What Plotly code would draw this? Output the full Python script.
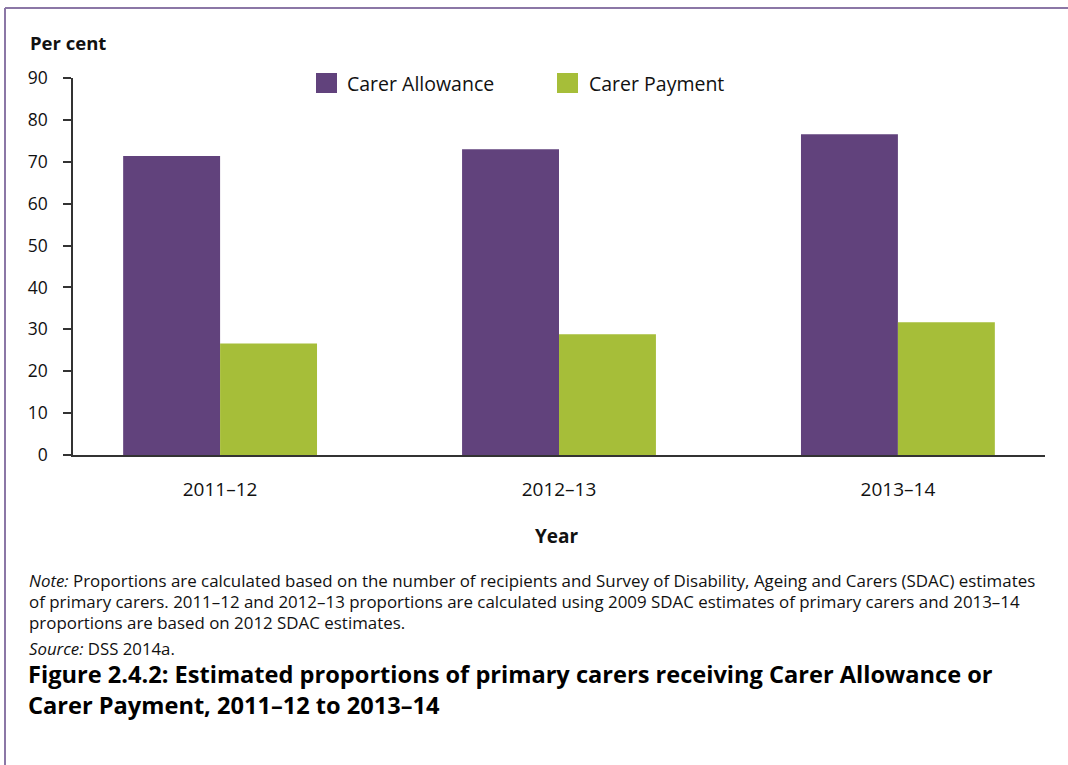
import plotly.graph_objects as go

# Financial years and estimated shares of primary carers (per cent)
years = ["2011–12", "2012–13", "2013–14"]
carer_allowance = [71.4, 73.0, 76.6]
carer_payment = [26.6, 28.8, 31.7]
y_ticks = [0, 10, 20, 30, 40, 50, 60, 70, 80, 90]

PURPLE = "#61427c"
GREEN = "#a6be39"
FRAME = "#8b77a6"
FONT = "Open Sans"

W, H = 1068, 765
L, R, T, B = 73, 1045, 78, 455  # plot area in pixels


def px(x):
    return (x - L) / (R - L)


def py(y):
    return (B - y) / (B - T)


fig = go.Figure()
fig.add_trace(go.Bar(x=list(range(len(years))), y=carer_allowance, name="Carer Allowance",
                     marker=dict(color=PURPLE, line=dict(width=0)), showlegend=False))
fig.add_trace(go.Bar(x=list(range(len(years))), y=carer_payment, name="Carer Payment",
                     marker=dict(color=GREEN, line=dict(width=0)), showlegend=False))

shapes = [
    # outer frame (left and top edges)
    dict(type="line", xref="paper", yref="paper", x0=px(5), x1=px(5), y0=py(8), y1=py(770),
         line=dict(color=FRAME, width=2)),
    dict(type="line", xref="paper", yref="paper", x0=px(5), x1=px(1070), y0=py(8), y1=py(8),
         line=dict(color=FRAME, width=2)),
    # legend swatches
    dict(type="rect", xref="paper", yref="paper", x0=px(316), x1=px(337), y0=py(73), y1=py(93),
         fillcolor=PURPLE, line=dict(width=0)),
    dict(type="rect", xref="paper", yref="paper", x0=px(557), x1=px(578), y0=py(73), y1=py(93),
         fillcolor=GREEN, line=dict(width=0)),
]

note_lines = [
    "<i>Note:</i> Proportions are calculated based on the number of recipients and Survey of Disability, "
    "Ageing and Carers (SDAC) estimates",
    "of primary carers. 2011–12 and 2012–13 proportions are calculated using 2009 SDAC estimates "
    "of primary carers and 2013–14",
    "proportions are based on 2012 SDAC estimates.",
]
title_text = ("<b>Figure 2.4.2: Estimated proportions of primary carers receiving Carer Allowance or<br>"
              "Carer Payment, 2011–12 to 2013–14</b>")


def label(text, x, y, size, xanchor="left", yanchor="middle", **kw):
    return dict(text=text, xref="paper", yref="paper", x=px(x), y=py(y), xanchor=xanchor,
                yanchor=yanchor, showarrow=False, font=dict(family=FONT, size=size, color="#111"),
                **kw)


annotations = [
    label("<b>Per cent</b>", 28, 43, 18.5),
    label("Carer Allowance", 345, 83, 19.5),
    label("Carer Payment", 587, 83, 19.5),
    label("<b>Year</b>", 557, 536, 19, xanchor="center"),
    label("<i>Source:</i> DSS 2014a.", 27, 648, 16.8),
    dict(text=title_text, xref="paper", yref="paper", x=px(26), y=py(656), xanchor="left",
         yanchor="top", showarrow=False, align="left",
         font=dict(family=FONT, size=23.6, color="#000")),
]
for i, line in enumerate(note_lines):
    annotations.append(label(line, 27, 580 + 21 * i, 16.9))

fig.update_layout(
    width=W, height=H,
    margin=dict(l=L, r=W - R, t=T, b=H - B, pad=0),
    paper_bgcolor="white", plot_bgcolor="white",
    barmode="group", bargap=0.428, bargroupgap=0,
    font=dict(family=FONT, size=17, color="#111"),
    shapes=shapes, annotations=annotations,
    showlegend=False,
)
fig.update_xaxes(
    tickmode="array", tickvals=list(range(len(years))), ticktext=years,
    range=[-0.434, 2.434], showgrid=False, zeroline=False,
    showline=True, linecolor="#333", linewidth=1.5, ticks="",
    ticklabelstandoff=16, tickfont=dict(family=FONT, size=19, color="#111"),
)
fig.update_yaxes(
    range=[0, 90], tickvals=y_ticks, showgrid=False, zeroline=False,
    showline=True, linecolor="#333", linewidth=1.5, ticks="outside", ticklen=8,
    tickcolor="#333", tickwidth=1.5, ticklabelstandoff=12,
    tickfont=dict(family=FONT, size=17.5, color="#111"),
)

fig.write_html("out.html")
